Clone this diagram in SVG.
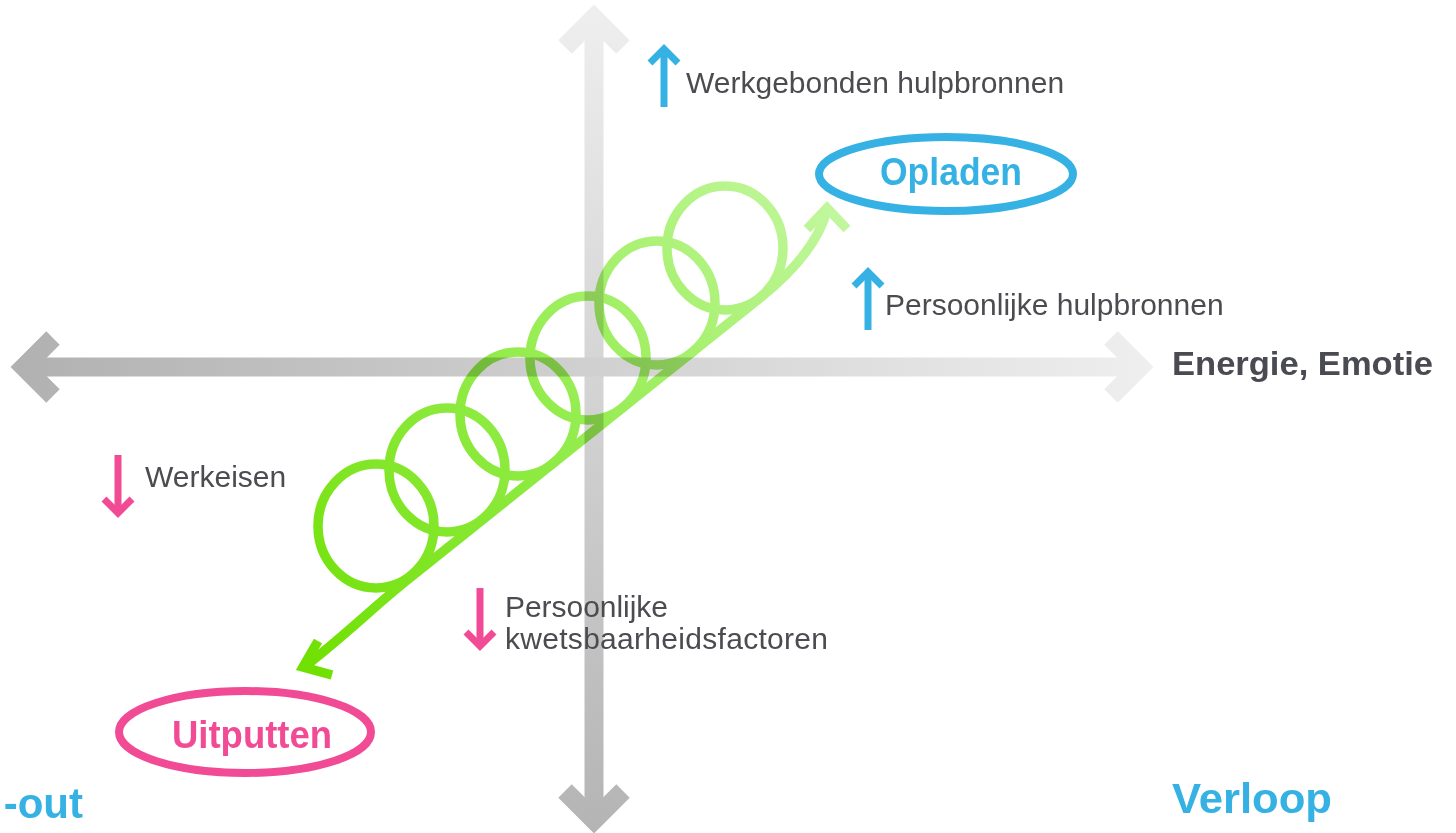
<svg xmlns="http://www.w3.org/2000/svg" width="1456" height="833" viewBox="0 0 1456 833">
<defs>
<linearGradient id="gv" gradientUnits="userSpaceOnUse" x1="0" y1="0" x2="0" y2="833">
<stop offset="0" stop-color="#efefef"/><stop offset="1" stop-color="#b4b4b4"/>
</linearGradient>
<linearGradient id="gh" gradientUnits="userSpaceOnUse" x1="0" y1="0" x2="1160" y2="0">
<stop offset="0" stop-color="#b0b0b0"/><stop offset="1" stop-color="#efefef"/>
</linearGradient>
<linearGradient id="gg" gradientUnits="userSpaceOnUse" x1="300" y1="668" x2="840" y2="200">
<stop offset="0" stop-color="#6fe000"/><stop offset="0.5" stop-color="#93ec4c"/><stop offset="1" stop-color="#c3f7a0"/>
</linearGradient>
</defs>
<style>
.ax{fill:none;stroke-width:19;stroke-linejoin:miter;stroke-linecap:butt}
.bl{fill:none;stroke:#35b2e3;stroke-width:7;stroke-linejoin:miter}
.pk{fill:none;stroke:#f24b96;stroke-width:7;stroke-linejoin:miter}
.lbl{font-family:"Liberation Sans",Arial,sans-serif;font-size:30px;fill:#4b4b50}
.bold{font-family:"Liberation Sans",Arial,sans-serif;font-weight:bold}
.gr{fill:none;stroke:url(#gg);stroke-width:9.5;stroke-linejoin:miter}
</style>
<g id="axes">
<line class="ax" x1="594" y1="19" x2="594" y2="819" stroke="url(#gv)"/>
<polyline class="ax" points="565,47 594,18 623,47" stroke="url(#gv)"/>
<polyline class="ax" points="565,791 594,820 623,791" stroke="url(#gv)"/>
<line class="ax" x1="25" y1="367" x2="1139" y2="367" stroke="url(#gh)"/>
<polyline class="ax" points="53,338 24,367 53,396" stroke="url(#gh)"/>
<polyline class="ax" points="1111,338 1140,367 1111,396" stroke="url(#gh)"/>
</g>
<g id="connectors" style="mix-blend-mode:multiply">
<ellipse class="gr" cx="376" cy="526" rx="58" ry="62"/>
<ellipse class="gr" cx="447" cy="470" rx="58" ry="62"/>
<ellipse class="gr" cx="518" cy="414" rx="58" ry="62"/>
<ellipse class="gr" cx="588" cy="358" rx="58" ry="62"/>
<ellipse class="gr" cx="657" cy="303" rx="58" ry="62"/>
<ellipse class="gr" cx="725" cy="248" rx="58" ry="62"/>
<path class="gr" d="M304,667 C340,640 380,601 411,577 L760,298 C790,274 818,245 827,210"/>
<polyline class="gr" points="318,641 303,667 332,675"/>
<polyline class="gr" points="807,229 827,208 847,229"/>
</g>
<g id="werkgebonden">
<line class="bl" x1="664" y1="50" x2="664" y2="107"/>
<polyline class="bl" points="650,63 664,49 678,63"/>
<text class="lbl" x="686" y="93">Werkgebonden hulpbronnen</text>
</g>
<g id="opladen">
<ellipse cx="946" cy="174" rx="127" ry="37" fill="none" stroke="#35b2e3" stroke-width="8"/>
<text class="bold" x="951" y="185" font-size="38" fill="#35b2e3" text-anchor="middle" textLength="142" lengthAdjust="spacingAndGlyphs">Opladen</text>
</g>
<g id="persoonlijke-hulpbronnen">
<line class="bl" x1="868" y1="273" x2="868" y2="330"/>
<polyline class="bl" points="854,286 868,272 882,286"/>
<text class="lbl" x="885" y="315">Persoonlijke hulpbronnen</text>
</g>
<g id="energie">
<text class="bold" x="1172" y="375" font-size="33" fill="#4a4a52" textLength="261" lengthAdjust="spacingAndGlyphs">Energie, Emotie</text>
</g>
<g id="werkeisen">
<line class="pk" x1="118" y1="455" x2="118" y2="512"/>
<polyline class="pk" points="104,499 118,513 132,499"/>
<text class="lbl" x="145" y="487">Werkeisen</text>
</g>
<g id="kwetsbaarheid">
<line class="pk" x1="480" y1="588" x2="480" y2="645"/>
<polyline class="pk" points="466,632 480,646 494,632"/>
<text class="lbl" x="505" y="617" font-size="28" textLength="163">Persoonlijke</text>
<text class="lbl" x="505" y="649" font-size="28" textLength="323">kwetsbaarheidsfactoren</text>
</g>
<g id="uitputten">
<ellipse cx="245" cy="732" rx="126" ry="41" fill="none" stroke="#f24b96" stroke-width="8"/>
<text class="bold" x="252" y="748" font-size="38" fill="#f24b96" text-anchor="middle" textLength="160" lengthAdjust="spacingAndGlyphs">Uitputten</text>
</g>
<g id="burnout">
<text class="bold" x="83" y="818" font-size="42" fill="#35b2e3" text-anchor="end">-out</text>
</g>
<g id="verloop">
<text class="bold" x="1172" y="813" font-size="42" fill="#35b2e3" textLength="160" lengthAdjust="spacingAndGlyphs">Verloop</text>
</g>
</svg>
